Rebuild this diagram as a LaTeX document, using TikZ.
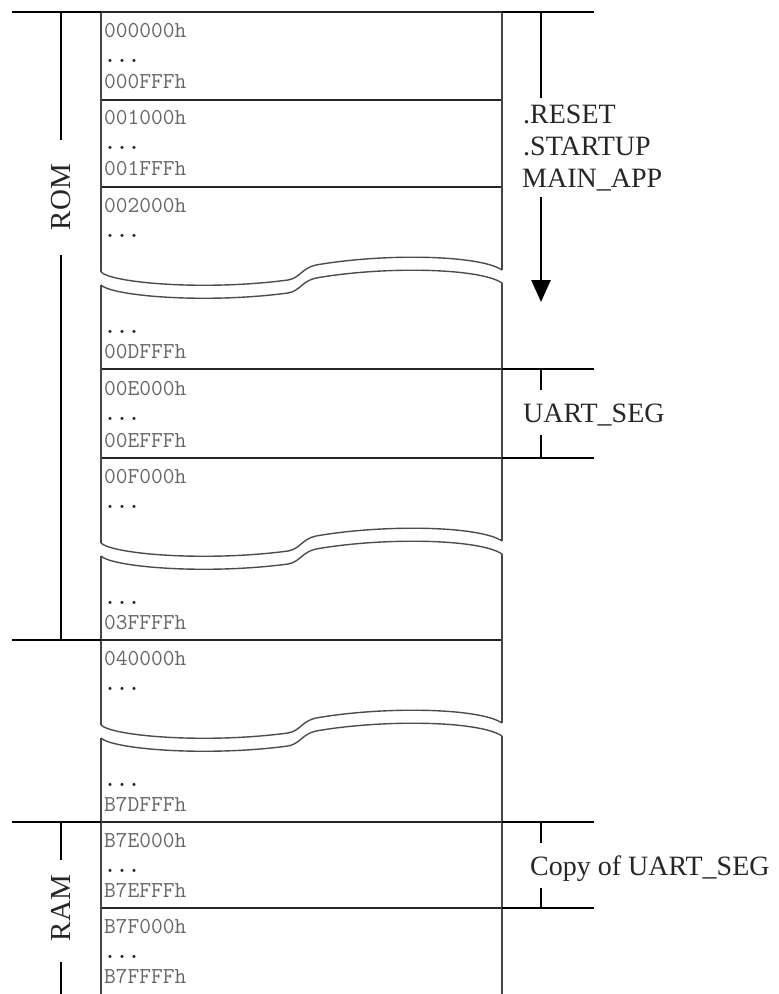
\documentclass[tikz,border=0pt]{standalone}
\usepackage{fontspec}
\newfontfamily\serifl{Liberation Serif}
\usetikzlibrary{arrows.meta}
\begin{document}
\begin{tikzpicture}[x=1pt,y=-1pt,
  hline/.style={line width=1.7pt, draw=black!85},
  vline/.style={line width=1.6pt, draw=black!72},
  brk/.style={line width=1.4pt, draw=black!70},
  bracket/.style={line width=2.6pt, draw=black},
  addr/.style={anchor=base west, inner sep=0pt, font=\fontsize{22.8}{24}\selectfont\ttfamily, text=black!60},
  dots/.style={anchor=base west, inner sep=0pt, font=\fontsize{22.8}{24}\selectfont\ttfamily\bfseries, text=black!85},
  lbl/.style={anchor=base west, inner sep=0pt, font=\fontsize{28}{32}\selectfont\serifl, text=black!85},
  side/.style={inner sep=0pt, font=\fontsize{29}{32}\selectfont\serifl, rotate=90, text=black!85}]
\useasboundingbox (0,0) rectangle (779,994);

% horizontal dividers of the memory column
\foreach \yy in {12,100,187,369,458,640,822,908}
  \draw[hline] (101,\yy) -- (502,\yy);

% vertical edges, interrupted at the breaks
\draw[vline] (101,12) -- (101,272);   \draw[vline] (502,12) -- (502,270);
\draw[vline] (101,285) -- (101,543);  \draw[vline] (502,283) -- (502,541);
\draw[vline] (101,556) -- (101,725);  \draw[vline] (502,554) -- (502,723);
\draw[vline] (101,738) -- (101,994);  \draw[vline] (502,736) -- (502,994);

% break curves
\foreach \T in {187,458,640} {
  \begin{scope}[shift={(0,\T)}]
    \foreach \d in {0,13}
      \draw[brk] (101,85+\d) .. controls (112,96+\d) and (205,104+\d) .. (288,93+\d)
        .. controls (300,91+\d) and (302,81+\d) .. (316,78+\d)
        .. controls (385,66+\d) and (480,68+\d) .. (502,83+\d);
  \end{scope}
}

% addresses
\node[addr] (a1) at (104,37) {000000h};
\node[dots] (d1) at (104,62) {...};
\node[addr] (b1) at (104,88) {000FFFh};
\node[addr] (a2) at (104,124) {001000h};
\node[dots] (d2) at (104,149) {...};
\node[addr] (b2) at (104,175) {001FFFh};
\node[addr] (a3) at (104,212) {002000h};
\node[dots] (d3) at (104,237) {...};
\node[dots] (e3) at (104,333) {...};
\node[addr] (b3) at (104,358) {00DFFFh};
\node[addr] (a4) at (104,395) {00E000h};
\node[dots] (d4) at (104,420) {...};
\node[addr] (b4) at (104,447) {00EFFFh};
\node[addr] (a5) at (104,483) {00F000h};
\node[dots] (d5) at (104,508) {...};
\node[dots] (e5) at (104,604) {...};
\node[addr] (b5) at (104,629) {03FFFFh};
\node[addr] (a6) at (104,665) {040000h};
\node[dots] (d6) at (104,690) {...};
\node[dots] (e6) at (104,786) {...};
\node[addr] (b6) at (104,811) {B7DFFFh};
\node[addr] (a7) at (104,847) {B7E000h};
\node[dots] (d7) at (104,872) {...};
\node[addr] (b7) at (104,897) {B7EFFFh};
\node[addr] (a8) at (104,933) {B7F000h};
\node[dots] (d8) at (104,958) {...};
\node[addr] (b8) at (104,983) {B7FFFFh};

% left ROM / RAM markers
\coordinate (lt0) at (12,12);   \coordinate (lt1) at (101,12);
\coordinate (lm0) at (12,640);  \coordinate (lm1) at (101,640);
\coordinate (lb0) at (12,822);  \coordinate (lb1) at (101,822);
\draw[bracket] (lt0) -- (lt1);
\draw[bracket] (lm0) -- (lm1);
\draw[bracket] (lb0) -- (lb1);
\node[side] (rom) at (61,197) {ROM};
\node[side] (ram) at (61,908) {RAM};
\coordinate (romtop) at (61,12);  \coordinate (romt) at (61,140);
\coordinate (romb) at (61,255);   \coordinate (rombot) at (61,640);
\draw[bracket] (romtop) -- (romt);
\draw[bracket] (romb) -- (rombot);
\coordinate (ramtop) at (61,822); \coordinate (ramt) at (61,860);
\coordinate (ramb) at (61,962);   \coordinate (rambot) at (61,994);
\draw[bracket] (ramtop) -- (ramt);
\draw[bracket] (ramb) -- (rambot);

% right markers
\foreach \yy in {12,369,458,822,908}
  \draw[bracket] (502,\yy) -- (594,\yy);

\node[lbl] (reset) at (523,123) {.RESET};
\node[lbl] (startup) at (523,155) {.STARTUP};
\node[lbl] (mainapp) at (522,187) {MAIN\_APP};
\coordinate (ar0) at (541,12);  \coordinate (ar1) at (541,98);
\coordinate (ar2) at (541,197); \coordinate (ar3) at (541,302);
\draw[bracket] (ar0) -- (ar1);
\draw[bracket,-{Triangle[width=19pt,length=22pt]}] (ar2) -- (ar3);

\node[lbl] (uart) at (523,422) {UART\_SEG};
\coordinate (u0) at (541,369); \coordinate (u1) at (541,390);
\coordinate (u2) at (541,435); \coordinate (u3) at (541,458);
\draw[bracket] (u0) -- (u1);
\draw[bracket] (u2) -- (u3);

\node[lbl] (copy) at (530,875) {Copy of UART\_SEG};
\coordinate (c0) at (541,822); \coordinate (c1) at (541,843);
\coordinate (c2) at (541,888); \coordinate (c3) at (541,908);
\draw[bracket] (c0) -- (c1);
\draw[bracket] (c2) -- (c3);
\end{tikzpicture}
\end{document}
